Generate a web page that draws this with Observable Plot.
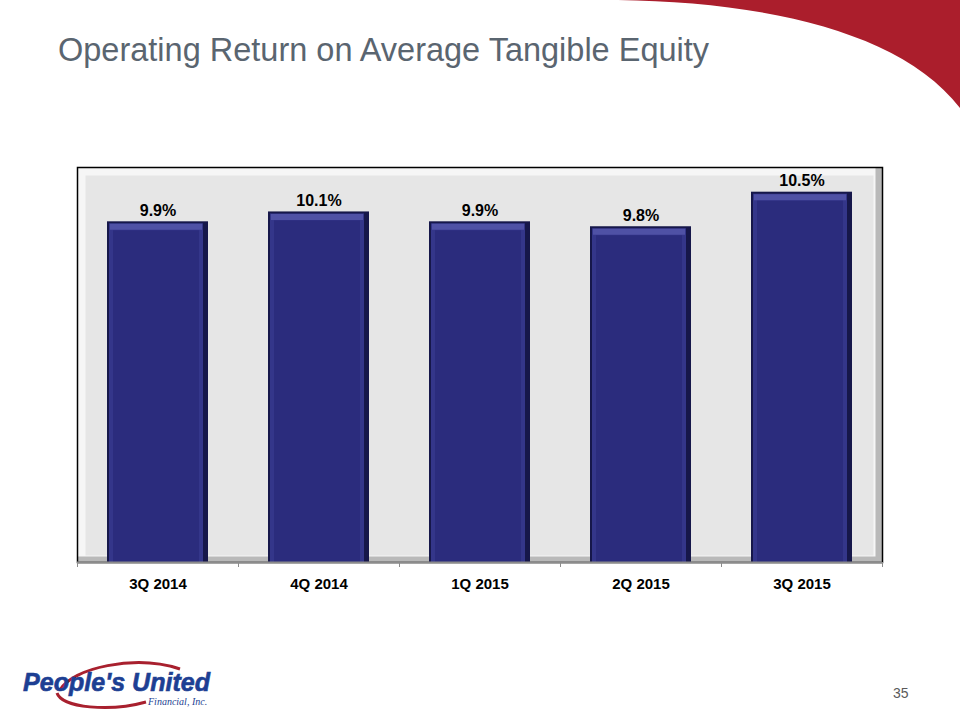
<!DOCTYPE html>
<html><head><meta charset="utf-8">
<script src="https://cdn.jsdelivr.net/npm/d3@7"></script>
<script src="https://cdn.jsdelivr.net/npm/@observablehq/plot@0.6"></script>
<style>
body{margin:0;background:#fff;font-family:"Liberation Sans",Arial,sans-serif;}
#page{position:relative;width:960px;height:720px;overflow:hidden;background:#fff;}
#swoosh{position:absolute;left:0;top:0;}
#title{position:absolute;left:58px;top:32px;font-size:32.5px;color:#5a6570;white-space:nowrap;}
#chart{position:absolute;left:0;top:100px;}
#logo{position:absolute;left:0;top:640px;}
#pagenum{position:absolute;left:893px;top:685px;font-size:14px;color:#5a5a5a;}
</style></head>
<body>
<div id="page">
  <svg id="swoosh" width="960" height="160"><path d="M618,0 C760,2 900,30 960,108 L960,0 Z" fill="#ab1e2c"/></svg>
  <div id="title">Operating Return on Average Tangible Equity</div>
  <div id="chart"></div>
  <svg id="logo" width="300" height="80">
    <path d="M60,50 C72,28 135,14 180,29" fill="none" stroke="#a8202e" stroke-width="3"/>
    <path d="M57,53 C62,68 110,72 146,62" fill="none" stroke="#a8202e" stroke-width="3"/>
    <text x="23" y="51" font-family="Liberation Sans, Arial, sans-serif" font-weight="bold" font-style="italic" font-size="25" fill="#1d3f93" stroke="#1d3f93" stroke-width="0.6" textLength="187" lengthAdjust="spacingAndGlyphs">People's United</text>
    <text x="148" y="65" font-family="Liberation Serif, Times New Roman, serif" font-style="italic" font-size="10" fill="#1d3f93">Financial, Inc.</text>
  </svg>
  <div id="pagenum">35</div>
</div>
<script>
const quarters = ["3Q 2014", "4Q 2014", "1Q 2015", "2Q 2015", "3Q 2015"];
const roate = [9.9, 10.1, 9.9, 9.8, 10.5];
const yDomain = [3, 11];

const data = quarters.map((q, i) => ({quarter: q, value: roate[i]}));

const chart = Plot.plot({
  width: 960,
  height: 520,
  marginLeft: 77,
  marginRight: 78,
  marginTop: 67,
  marginBottom: 58,
  x: {domain: quarters, paddingInner: 0.373, paddingOuter: 0.1865, axis: null, label: null},
  y: {domain: yDomain, clamp: true, axis: null, label: null},
  style: {fontFamily: "Liberation Sans, Arial, sans-serif", background: "transparent"},
  marks: [
    Plot.frame({fill: "#b9b9b9", stroke: "none"}),
    Plot.frame({fill: "#f6f6f6", stroke: "none", insetRight: 7, insetBottom: 6}),
    Plot.frame({fill: "#e6e6e6", stroke: "none", insetTop: 8, insetLeft: 8, insetRight: 9, insetBottom: 7}),
    Plot.frame({stroke: "#000", strokeWidth: 1.5}),
    Plot.barY(data, {x: "quarter", y: "value", fill: "#16174a"}),
    Plot.barY(data, {x: "quarter", y: "value", fill: "#34368a", insetLeft: 2, insetRight: 5, insetTop: 2}),
    Plot.tickY(data, {x: "quarter", y: "value", stroke: "#4f51a5", strokeWidth: 6, dy: 5, insetLeft: 3, insetRight: 6}),
    Plot.barY(data, {x: "quarter", y: "value", fill: "#2b2c7d", insetLeft: 6, insetRight: 9, insetTop: 9}),
    Plot.ruleY([yDomain[0]], {stroke: "#8c8c8c", strokeWidth: 2}),
    Plot.axisX({tickSize: 5, tickFormat: () => "", label: null, dx: -80.5, stroke: "#8c8c8c"}),
    Plot.axisX({ticks: [quarters[quarters.length - 1]], tickSize: 5, tickFormat: () => "", label: null, dx: 80.5, stroke: "#8c8c8c"}),
    Plot.axisX({tickSize: 0, tickPadding: 16, fontSize: 15, fontWeight: "bold", fill: "#000", label: null}),
    Plot.text(data, {x: "quarter", y: "value", text: d => d.value.toFixed(1) + "%", dy: -11, fontSize: 16, fontWeight: "bold", fill: "#000"})
  ]
});
document.getElementById("chart").appendChild(chart);
</script>
</body></html>
